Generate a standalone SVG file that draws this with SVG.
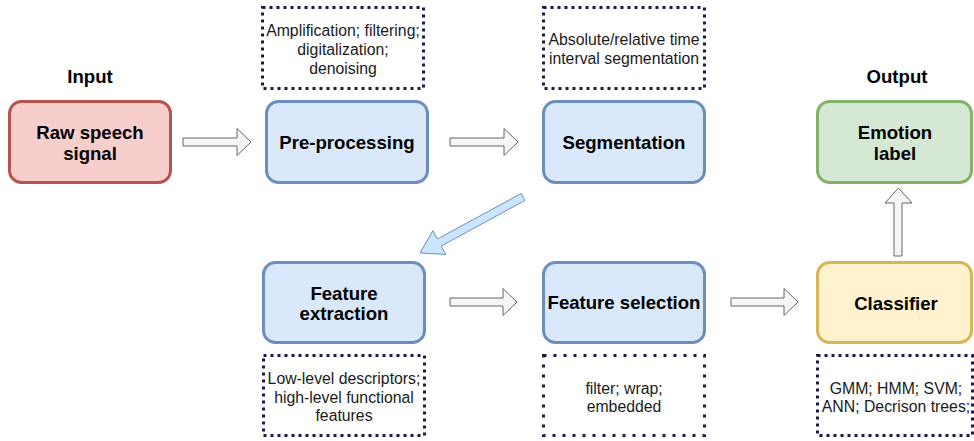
<svg xmlns="http://www.w3.org/2000/svg" width="974" height="441" viewBox="0 0 974 441">
<style>
.bg{fill:#ffffff}
.node{stroke-width:3}
.blue{fill:#dae8fc;stroke:#6c8ebf}
.red{fill:#f8cecc;stroke:#b85450}
.green{fill:#d5e8d4;stroke:#82b366}
.yellow{fill:#fff2cc;stroke:#d6b656}
.note{fill:none;stroke:#1a1a4a;stroke-width:3;stroke-dasharray:3 4}
.note2{fill:none;stroke:#1a1a4a;stroke-width:3;stroke-dasharray:3 7}
.t{font-family:"Liberation Sans",Arial,sans-serif;font-weight:bold;font-size:18.6px;fill:#000;text-anchor:middle;dominant-baseline:central}
.s{font-family:"Liberation Sans",Arial,sans-serif;font-size:15.8px;fill:#1a1a1a;text-anchor:middle;dominant-baseline:central}
.arr{fill:#f5f5f5;stroke:#666666;stroke-width:1}
.darr{fill:#cce5ff;stroke:#6c8ebf;stroke-width:1}
</style>
<rect class="bg" x="0" y="0" width="974" height="441"/>
<g id="connectors">
<polygon class="arr" points="183,138 237,138 237,128.5 251,142 237,155.5 237,146 183,146"/>
<polygon class="arr" points="450,138 504,138 504,128.5 518,142 504,155.5 504,146 450,146"/>
<polygon class="darr" points="420,253 445.8,254.4 441.2,246 524.9,200.5 521.1,193.5 437.4,239 432.9,230.6"/>
<polygon class="arr" points="450,298 503,298 503,288.5 517,302 503,315.5 503,306 450,306"/>
<polygon class="arr" points="731,298 784,298 784,288.5 798,302 784,315.5 784,306 731,306"/>
<polygon class="arr" points="894,256 894,203 885,203 898.5,188 912,203 902,203 902,256"/>
</g>
<g id="label-input"><text class="t" x="90" y="76">Input</text></g>
<g id="label-output"><text class="t" x="897" y="76">Output</text></g>
<g id="raw"><rect class="node red" x="9.5" y="101.5" width="161" height="81" rx="12"/><text class="t" x="90" y="132">Raw speech</text><text class="t" x="90" y="153">signal</text></g>
<g id="preprocessing"><rect class="node blue" x="266.5" y="101.5" width="161" height="81" rx="12"/><text class="t" x="347" y="142">Pre-processing</text></g>
<g id="note-pre"><rect class="note" x="262.5" y="7.5" width="161" height="81"/><text class="s" x="343" y="30">Amplification; filtering;</text><text class="s" x="343" y="49">digitalization;</text><text class="s" x="343" y="68">denoising</text></g>
<g id="segmentation"><rect class="node blue" x="543.5" y="101.5" width="161" height="81" rx="12"/><text class="t" x="624" y="142">Segmentation</text></g>
<g id="note-seg"><rect class="note" x="543.5" y="7.5" width="161" height="81"/><text class="s" x="624" y="39">Absolute/relative time</text><text class="s" x="624" y="58">interval segmentation</text></g>
<g id="emotion"><rect class="node green" x="817.5" y="101.5" width="154" height="81" rx="12"/><text class="t" x="895" y="132">Emotion</text><text class="t" x="895" y="153">label</text></g>
<g id="extraction"><rect class="node blue" x="263.5" y="262.5" width="161" height="80" rx="12"/><text class="t" x="344" y="293">Feature</text><text class="t" x="344" y="313">extraction</text></g>
<g id="note-ext"><rect class="note" x="263.5" y="355.5" width="161" height="80"/><text class="s" x="344" y="378">Low-level descriptors;</text><text class="s" x="344" y="397">high-level functional</text><text class="s" x="344" y="415">features</text></g>
<g id="selection"><rect class="node blue" x="543.5" y="262.5" width="161" height="80" rx="12"/><text class="t" x="624" y="302">Feature selection</text></g>
<g id="note-sel"><rect class="note2" x="543.5" y="355.5" width="161" height="80"/><text class="s" x="624" y="388">filter; wrap;</text><text class="s" x="624" y="406">embedded</text></g>
<g id="classifier"><rect class="node yellow" x="817.5" y="262.5" width="154" height="80" rx="12"/><text class="t" x="896" y="303">Classifier</text></g>
<g id="note-cls"><rect class="note" x="817.5" y="355.5" width="155" height="80"/><text class="s" x="896" y="388">GMM; HMM; SVM;</text><text class="s" x="896" y="406">ANN; Decrison trees;</text></g>
</svg>
